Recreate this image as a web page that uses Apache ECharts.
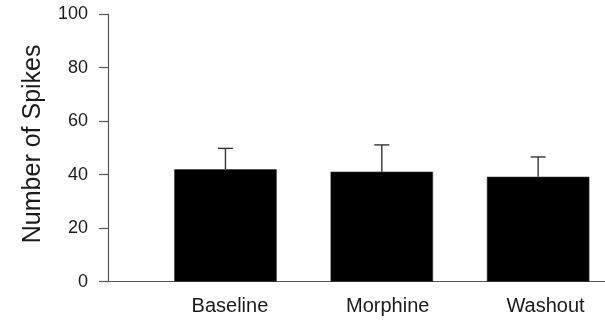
<!DOCTYPE html>
<html>
<head>
<meta charset="utf-8">
<script src="https://cdn.jsdelivr.net/npm/echarts@6/dist/echarts.min.js"></script>
<style>
  html, body { margin: 0; padding: 0; background: #fff; }
  #chart { width: 605px; height: 322px; }
</style>
</head>
<body>
<div id="chart"></div>
<script>
// Spike counts per condition (mean and SEM)
const categories = ['Baseline', 'Morphine', 'Washout'];
const meanSpikes = [42.0, 41.1, 39.2];
const semSpikes = [7.8, 10.0, 7.4];
const yTicks = [0, 20, 40, 60, 80, 100];

const FONT = '"Liberation Sans", Arial, Helvetica, sans-serif';
const AXIS_COLOR = '#555';
const TEXT_COLOR = '#1a1a1a';

const TOP = 14;
const BOTTOM = 40.3;

const errorData = categories.map((c, i) => [i, meanSpikes[i], semSpikes[i]]);

const chart = echarts.init(document.getElementById('chart'), null, { renderer: 'canvas' });

chart.setOption({
  backgroundColor: '#fff',
  animation: false,
  grid: [
    // frame: y axis and baseline
    { left: 108, right: 0, top: TOP, bottom: BOTTOM, outerBoundsMode: 'none' },
    // bars and error bars
    { left: 147.3, width: 469, top: TOP, bottom: BOTTOM, outerBoundsMode: 'none' },
    // category labels
    { left: 151, width: 473.4, top: TOP, bottom: BOTTOM, outerBoundsMode: 'none' }
  ],
  xAxis: [
    {
      gridIndex: 0, type: 'value', min: 0, max: 1,
      axisLine: { show: true, lineStyle: { color: AXIS_COLOR, width: 1.2 } },
      axisTick: { show: false }, axisLabel: { show: false }, splitLine: { show: false }
    },
    {
      gridIndex: 1, type: 'category', data: categories,
      axisLine: { show: false }, axisTick: { show: false }, axisLabel: { show: false }
    },
    {
      gridIndex: 2, type: 'category', data: categories,
      axisLine: { show: false }, axisTick: { show: false },
      axisLabel: { show: true, margin: 15, fontFamily: FONT, fontSize: 20, color: TEXT_COLOR }
    }
  ],
  yAxis: [
    {
      gridIndex: 0, type: 'value', min: yTicks[0], max: yTicks[yTicks.length - 1],
      interval: yTicks[1] - yTicks[0],
      name: 'Number of Spikes', nameLocation: 'middle', nameGap: 62, nameRotate: 90,
      nameTextStyle: { fontFamily: FONT, fontSize: 25, color: TEXT_COLOR, padding: [0, 0, 0, 8] },
      axisLine: { show: true, lineStyle: { color: AXIS_COLOR, width: 1.2 } },
      axisTick: { show: true, inside: false, length: 9, lineStyle: { color: AXIS_COLOR, width: 1.2 } },
      axisLabel: { margin: 20, fontFamily: FONT, fontSize: 18, color: TEXT_COLOR },
      splitLine: { show: false }
    },
    { gridIndex: 1, type: 'value', min: 0, max: 100, show: false },
    { gridIndex: 2, type: 'value', min: 0, max: 100, show: false }
  ],
  series: [
    {
      type: 'bar',
      xAxisIndex: 1, yAxisIndex: 1,
      data: meanSpikes,
      barWidth: 102.5,
      itemStyle: { color: '#000', borderColor: '#333', borderWidth: 0.6 },
      z: 2
    },
    {
      type: 'custom',
      xAxisIndex: 1, yAxisIndex: 1,
      data: errorData,
      z: 3,
      renderItem: function (params, api) {
        const idx = api.value(0);
        const m = api.value(1);
        const e = api.value(2);
        const base = api.coord([idx, m]);
        const top = api.coord([idx, m + e]);
        const half = 7.5;
        const style = { stroke: '#333', lineWidth: 1.4 };
        return {
          type: 'group',
          children: [
            { type: 'line', shape: { x1: base[0], y1: base[1], x2: top[0], y2: top[1] }, style: style },
            { type: 'line', shape: { x1: top[0] - half, y1: top[1], x2: top[0] + half, y2: top[1] }, style: style }
          ]
        };
      }
    }
  ]
});
</script>
</body>
</html>
